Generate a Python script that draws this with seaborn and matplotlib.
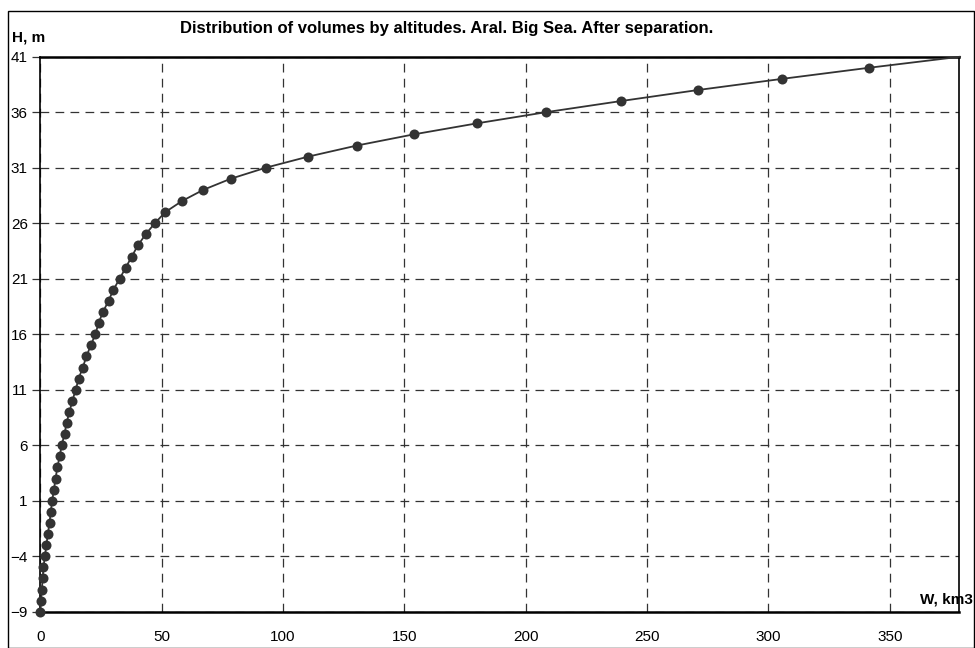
import matplotlib
matplotlib.use("Agg")
import matplotlib.pyplot as plt
import seaborn as sns
import pandas as pd
from matplotlib.patches import Rectangle

# ---- data ----
H_levels = list(range(-9, 41))
W_volumes = [0.0, 0.3, 0.6, 1.0, 1.3, 1.9, 2.5, 3.1, 3.8, 4.3,
             4.9, 5.6, 6.3, 7.0, 8.0, 8.8, 10.0, 10.8, 12.0, 13.2,
             14.6, 15.8, 17.5, 19.0, 20.8, 22.7, 24.0, 25.8, 28.1, 30.1,
             32.7, 35.2, 37.7, 40.2, 43.4, 47.2, 51.5, 58.4, 67.1, 78.4,
             92.9, 110.4, 130.5, 153.8, 180.0, 208.3, 239.1, 271.0, 305.5, 341.3]
H_top = [41]
W_top = [379.0]
y_ticks = [-9, -4, 1, 6, 11, 16, 21, 26, 31, 36, 41]
x_ticks = [0, 50, 100, 150, 200, 250, 300, 350]

title = "Distribution of volumes by altitudes. Aral. Big Sea. After separation."
y_label = "H, m"
x_label = "W, km3"

pts = pd.DataFrame({"W": W_volumes, "H": H_levels})
line = pd.DataFrame({"W": W_volumes + W_top, "H": H_levels + H_top})

sns.set_theme(style="white")
plt.rcParams["font.family"] = ["Liberation Sans", "DejaVu Sans"]

fig = plt.figure(figsize=(9.75, 6.48), dpi=100)
W_px, H_px = 975, 648
ax = fig.add_axes([40.3 / W_px, 1 - 611.7 / H_px, (959 - 40.3) / W_px, (611.7 - 56.7) / H_px])

dark = "#333333"
sns.lineplot(data=line, x="W", y="H", sort=False, estimator=None, ax=ax,
             color=dark, linewidth=1.3, clip_on=False, zorder=3)
sns.scatterplot(data=pts, x="W", y="H", ax=ax, color=dark, s=52,
                edgecolor=dark, linewidth=0, clip_on=False, zorder=4)

ax.set_xlim(0, 378.5)
ax.set_ylim(-9, 41)
ax.set_xticks(x_ticks)
ax.set_yticks(y_ticks)
ax.set_xlabel("")
ax.set_ylabel("")
ax.grid(True, color="#333333", linestyle=(0, (7, 5)), linewidth=0.9)
for s in ax.spines.values():
    s.set_visible(True)
    s.set_color("black")
    s.set_linewidth(1.2)
ax.spines["bottom"].set_linewidth(1.8)
ax.spines["top"].set_linewidth(1.8)
ax.tick_params(axis="y", left=True, length=6, width=0.9, color="#333333",
               pad=3, labelsize=11, labelcolor="black")
ax.tick_params(axis="x", bottom=False, length=0, pad=13, labelsize=11,
               labelcolor="black")

fig.text(447 / W_px, 1 - 29 / H_px, title, ha="center", va="center",
         fontsize=12, fontweight="bold", color="black")
fig.text(12 / W_px, 1 - 38 / H_px, y_label, ha="left", va="center",
         fontsize=11, fontweight="bold", color="black")
fig.text(973 / W_px, 1 - 600 / H_px, x_label, ha="right", va="center",
         fontsize=11, fontweight="bold", color="black")

fig.patches.append(Rectangle((7.5 / W_px, 0.5 / H_px), (973.5 - 7.5) / W_px,
                             (H_px - 11 - 0.5) / H_px, transform=fig.transFigure,
                             fill=False, edgecolor="black", linewidth=1.0))

fig.savefig("out.png", dpi=100)
